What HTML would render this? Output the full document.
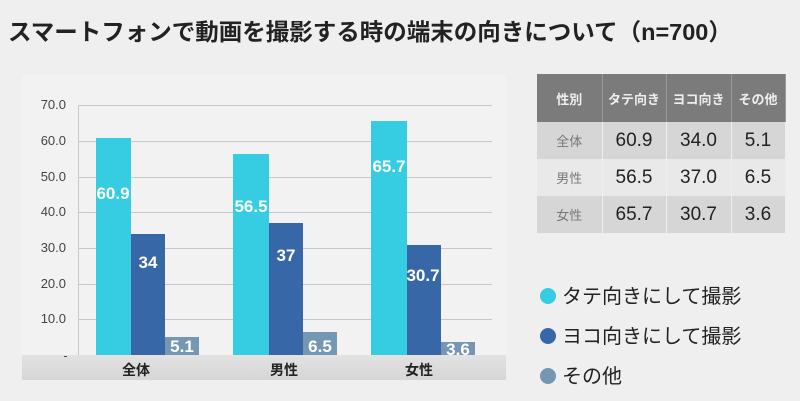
<!DOCTYPE html>
<html><head><meta charset="utf-8"><style>
body{margin:0;width:800px;height:401px;background:#efefef;font-family:"Liberation Sans","Noto Sans CJK JP",sans-serif;position:relative;overflow:hidden}
.a{position:absolute}
.t{left:8px;top:13px;font-size:23.5px;font-weight:bold;color:#222;white-space:nowrap}
.yl{width:50px;text-align:right;font-size:13px;color:#444;left:16px}
.g{left:78px;width:414px;height:1px;background:#c8c8c8}
.bar{position:absolute}
.c{background:#36cde3}.n{background:#3867a8}.s{background:#7597b3}
.v{position:absolute;color:#fff;font-size:17px;width:40px;text-align:center;font-weight:bold}
table{position:absolute;left:537px;top:74px;border-collapse:collapse;width:248px;table-layout:fixed}
td{text-align:center;border-right:1px solid #eee;padding:0}
th{background:#7b7b7b;color:#eee;font-size:13px;height:48px;border-right:1px solid #999;font-weight:bold;padding:0}
.r1 td,.r3 td{background:#d6d6d6}.r2 td{background:#e9e9e9}
td.h{font-size:13px;color:#777}
td.d{font-size:19px;color:#222}
.lg{font-size:20px;color:#222;left:540px}
.dot{display:inline-block;width:16px;height:16px;border-radius:50%;vertical-align:-1px;margin-right:6px}
</style></head><body>
<div class="a t">スマートフォンで動画を撮影する時の端末の向きについて（n=700）</div>
<div class="a" style="left:22px;top:75px;width:484px;height:305px;background:#f2f2f2"></div>
<div class="a yl" style="top:97px">70.0</div><div class="a g" style="top:105px"></div>
<div class="a yl" style="top:133px">60.0</div><div class="a g" style="top:141px"></div>
<div class="a yl" style="top:169px">50.0</div><div class="a g" style="top:177px"></div>
<div class="a yl" style="top:204px">40.0</div><div class="a g" style="top:212px"></div>
<div class="a yl" style="top:240px">30.0</div><div class="a g" style="top:248px"></div>
<div class="a yl" style="top:276px">20.0</div><div class="a g" style="top:284px"></div>
<div class="a yl" style="top:311px">10.0</div><div class="a g" style="top:319px"></div>
<div class="a" style="left:78px;top:105px;width:1px;height:250px;background:#c8c8c8"></div>
<div class="a" style="left:22px;top:355px;width:484px;height:25px;background:linear-gradient(#e2e2e2,#d6d6d6)"></div>
<div class="a" style="left:64px;top:356px;width:3px;height:1px;background:#444"></div>
<div class="bar c" style="left:96px;top:138px;width:35px;height:217px"></div>
<div class="bar n" style="left:131px;top:234px;width:34px;height:121px"></div>
<div class="bar s" style="left:165px;top:337px;width:34px;height:18px"></div>
<div class="v" style="left:93px;top:184px">60.9</div>
<div class="v" style="left:128px;top:253px">34</div>
<div class="v" style="left:162px;top:337px">5.1</div>
<div class="bar c" style="left:233px;top:154px;width:36px;height:201px"></div>
<div class="bar n" style="left:269px;top:223px;width:34px;height:132px"></div>
<div class="bar s" style="left:303px;top:332px;width:34px;height:23px"></div>
<div class="v" style="left:231px;top:197px">56.5</div>
<div class="v" style="left:266px;top:246px">37</div>
<div class="v" style="left:300px;top:337px">6.5</div>
<div class="bar c" style="left:371px;top:121px;width:36px;height:234px"></div>
<div class="bar n" style="left:407px;top:245px;width:34px;height:110px"></div>
<div class="bar s" style="left:441px;top:342px;width:34px;height:13px"></div>
<div class="v" style="left:369px;top:157px">65.7</div>
<div class="v" style="left:403px;top:266px">30.7</div>
<div class="v" style="left:438px;top:340px">3.6</div>
<div class="a" style="left:122px;top:360px;font-size:14px;font-weight:bold;color:#222">全体</div>
<div class="a" style="left:270px;top:360px;font-size:14px;font-weight:bold;color:#222">男性</div>
<div class="a" style="left:405px;top:360px;font-size:14px;font-weight:bold;color:#222">女性</div>
<table>
<colgroup><col style="width:65px"><col style="width:64px"><col style="width:65px"><col style="width:54px"></colgroup>
<tr><th>性別</th><th>タテ向き</th><th>ヨコ向き</th><th>その他</th></tr>
<tr class="r1" style="height:37px"><td class="h">全体</td><td class="d">60.9</td><td class="d">34.0</td><td class="d">5.1</td></tr>
<tr class="r2" style="height:37px"><td class="h">男性</td><td class="d">56.5</td><td class="d">37.0</td><td class="d">6.5</td></tr>
<tr class="r3" style="height:37px"><td class="h">女性</td><td class="d">65.7</td><td class="d">30.7</td><td class="d">3.6</td></tr>
</table>
<div class="a lg" style="top:280px"><span class="dot" style="background:#36cde3"></span>タテ向きにして撮影</div>
<div class="a lg" style="top:320px"><span class="dot" style="background:#3867a8"></span>ヨコ向きにして撮影</div>
<div class="a lg" style="top:360px"><span class="dot" style="background:#7597b3"></span>その他</div>
</body></html>
